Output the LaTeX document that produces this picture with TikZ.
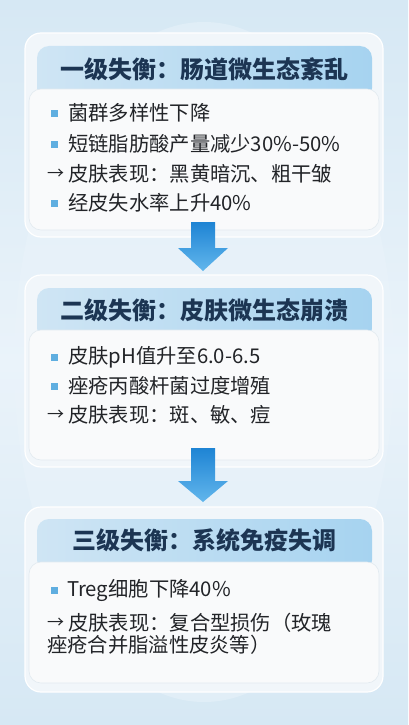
\documentclass[tikz,border=0pt]{standalone}
\usepackage{fontspec}
\setmainfont{Noto Sans CJK SC}
\usetikzlibrary{shadings}
\definecolor{bgA}{HTML}{D6E8F4}
\definecolor{bgB}{HTML}{EAF3FA}
\definecolor{halo}{HTML}{F1F6FA}
\definecolor{bodyfill}{HTML}{F9FAFB}
\definecolor{bodyline}{HTML}{E2EAF0}
\definecolor{headL}{HTML}{CFE5F4}
\definecolor{headR}{HTML}{A6D3F0}
\definecolor{titlec}{HTML}{1C3553}
\definecolor{textc}{HTML}{222428}
\definecolor{bulletc}{HTML}{5FAEE0}
\definecolor{arrT}{HTML}{1E84D4}
\definecolor{arrB}{HTML}{62B6EC}
\tikzset{
  halobox/.style={fill=halo, draw=white, line width=1.2pt, rounded corners=16pt},
  bodybox/.style={fill=bodyfill, draw=bodyline, line width=0.6pt, rounded corners=12pt},
  headbox/.style={left color=headL, right color=headR, draw=none},
  titletext/.style={font=\bfseries\fontsize{24}{27}\selectfont, text=titlec, inner sep=0pt},
  linetext/.style={font=\fontsize{20.3}{22}\selectfont, text=textc, anchor=west, inner sep=0pt},
  bulletsq/.style={fill=bulletc, draw=none, minimum size=7pt, inner sep=0pt},
  arrowtxt/.style={font=\fontsize{17}{20}\selectfont, text=textc, anchor=west, inner sep=0pt},
  blockarrow/.style={top color=arrT, bottom color=arrB, draw=none},
}
\begin{document}
\begin{tikzpicture}[x=1pt,y=-1pt]
\useasboundingbox (0,0) rectangle (408,725);
% background
\shade[top color=bgA, bottom color=bgA, middle color=bgB] (0,0) rectangle (408,725);
\fill[bgB, opacity=0.5] (204,362) ellipse (190 and 340);

% ---------- Card 1 ----------
\draw[halobox] (25,33) rectangle (383,237);
\path[headbox, rounded corners=12pt] (37,46) rectangle (372,100);
\draw[bodybox] (29,89) rectangle (379,230);
\node[titletext] (t1) at (204,69) {一级失衡：肠道微生态紊乱};
\node[bulletsq] (b11) at (54,113) {};
\node[linetext] (l11) at (68,113) {菌群多样性下降};
\node[bulletsq] (b12) at (54,144) {};
\node[linetext] (l12) at (68,144) {短链脂肪酸产量减少30\%-50\%};
\node[arrowtxt] (a13) at (47,174) {→};
\node[linetext] (l13) at (68,174) {皮肤表现：黑黄暗沉、粗干皱};
\node[bulletsq] (b14) at (54,203) {};
\node[linetext] (l14) at (68,203) {经皮失水率上升40\%};

% ---------- Card 2 ----------
\draw[halobox] (25,275) rectangle (383,467);
\path[headbox, rounded corners=12pt] (37,288) rectangle (372,340);
\draw[bodybox] (29,330) rectangle (379,460);
\node[titletext] (t2) at (204,310) {二级失衡：皮肤微生态崩溃};
\node[bulletsq] (b21) at (54,357) {};
\node[linetext] (l21) at (68,357) {皮肤pH值升至6.0-6.5};
\node[bulletsq] (b22) at (54,386) {};
\node[linetext] (l22) at (68,386) {痤疮丙酸杆菌过度增殖};
\node[arrowtxt] (a23) at (47,415) {→};
\node[linetext] (l23) at (68,415) {皮肤表现：斑、敏、痘};

% ---------- Card 3 ----------
\draw[halobox] (25,507) rectangle (383,692);
\path[headbox, rounded corners=12pt] (37,519) rectangle (372,572);
\draw[bodybox] (29,562) rectangle (379,683);
\node[titletext] (t3) at (204,540) {三级失衡：系统免疫失调};
\node[bulletsq] (b31) at (54,590) {};
\node[linetext] (l31) at (67,590) {Treg细胞下降40\%};
\node[arrowtxt] (a32) at (47,623) {→};
\node[linetext] (l32) at (68,623) {皮肤表现：复合型损伤（玫瑰};
\node[linetext] (l33) at (47,645) {痤疮合并脂溢性皮炎等）};

% ---------- Arrows ----------
\coordinate (s1) at (203,222);
\coordinate (s2) at (203,448);
\path[blockarrow] ([shift={(-12,0)}]s1) -- ([shift={(12,0)}]s1) -- ([shift={(12,26)}]s1)
  -- ([shift={(25,26)}]s1) -- ([shift={(0,49)}]s1) -- ([shift={(-25,26)}]s1)
  -- ([shift={(-12,26)}]s1) -- cycle;
\path[blockarrow] ([shift={(-12,0)}]s2) -- ([shift={(12,0)}]s2) -- ([shift={(12,33)}]s2)
  -- ([shift={(25,33)}]s2) -- ([shift={(0,54)}]s2) -- ([shift={(-25,33)}]s2)
  -- ([shift={(-12,33)}]s2) -- cycle;
\end{tikzpicture}
\end{document}
